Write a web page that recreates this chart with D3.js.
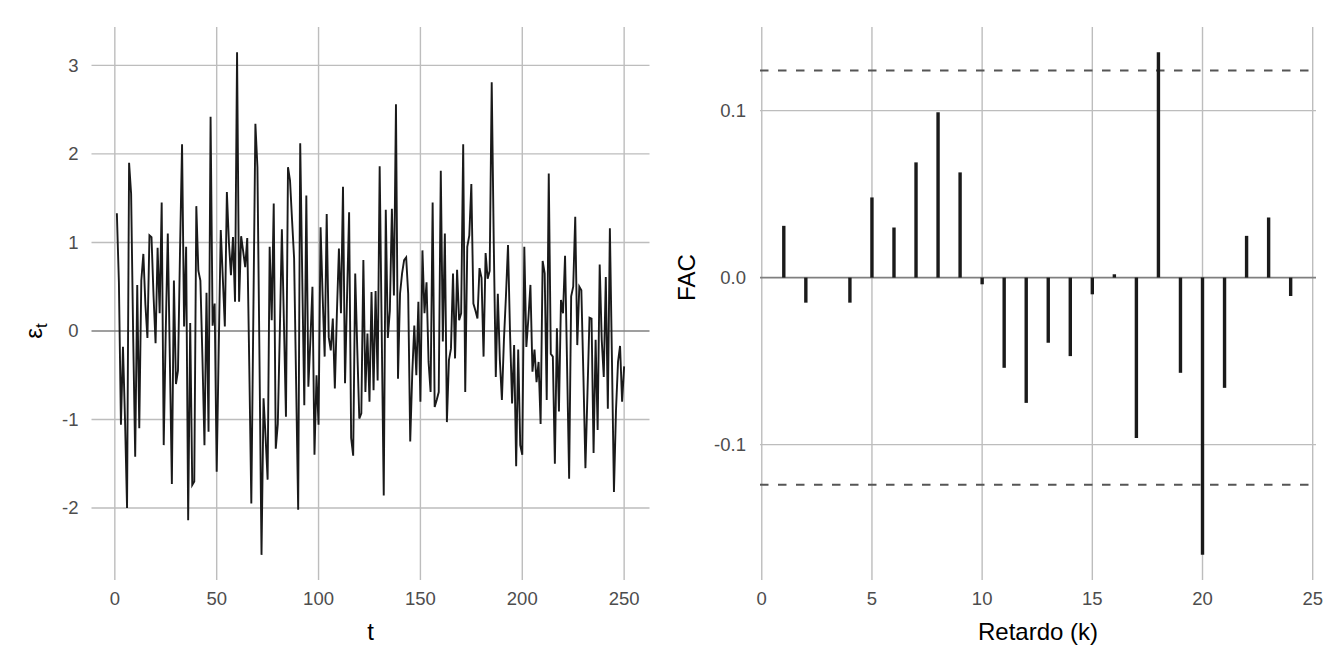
<!DOCTYPE html>
<html>
<head>
<meta charset="utf-8">
<script src="https://cdn.jsdelivr.net/npm/d3@7"></script>
<style>
  body { margin: 0; background: #fff; }
  svg { font-family: "Liberation Sans", Arial, Helvetica, sans-serif; }
  .tick-label { fill: #4d4d4d; font-size: 18.5px; }
  .axis-title { fill: #000; font-size: 24px; }
  .grid-line { stroke: #bdbdbd; stroke-width: 1.4; }
  .zero-line { stroke: #7f7f7f; stroke-width: 1.6; }
</style>
</head>
<body>
<svg id="chart" width="1344" height="672"></svg>
<script>
// residual series e_t, t = 1..250
var resid = [
   1.33, 0.55, -1.06, -0.18, -1.0, -2.0, 1.9, 1.55, -0.05, -1.42,
   0.52, -1.1, 0.57, 0.87, 0.3, -0.08, 1.08, 1.06, 0.4, -0.14,
   0.94, 0.2, 1.45, -1.29, 0.0, 1.1, -0.3, -1.73, 0.57, -0.6,
   -0.45, 0.9, 2.11, 0.05, 0.95, -2.14, 0.09, -1.74, -1.7, 1.41,
   0.68, 0.57, -0.3, -1.29, 0.43, -1.14, 2.42, 0.06, 0.31, -1.59,
   -0.2, 1.14, 0.6, 0.05, 1.57, 1.0, 0.63, 1.06, 0.33, 3.15,
   0.33, 1.07, 0.9, 0.72, 1.05, -0.4, -1.95, 0.2, 2.34, 1.85,
   -0.3, -2.53, -0.76, -1.2, -1.68, 0.95, 0.12, 1.44, -1.33, -1.05,
   0.0, 1.15, 0.1, -0.97, 1.85, 1.7, 1.25, 0.82, -0.6, -2.02,
   2.12, 0.6, -0.84, 1.53, -0.63, -0.1, 0.5, -1.4, -0.5, -1.06,
   1.17, 0.4, -0.29, 1.32, -0.07, -0.22, 0.14, -0.65, 0.2, 0.93,
   0.2, 1.63, -0.59, 0.4, 1.34, -1.21, -1.41, 0.65, -0.2, -0.99,
   -0.93, 0.8, -0.69, -0.03, -0.8, 0.44, -0.67, 0.45, -0.56, 1.86,
   0.0, -1.86, 1.37, -0.08, 0.23, 1.38, 0.4, 2.56, -0.54, 0.42,
   0.65, 0.8, 0.83, 0.42, -1.25, -0.48, 0.06, -0.5, 0.33, -0.8,
   0.91, 0.2, 0.55, -0.35, -0.69, 1.45, -0.86, -0.78, -0.69, 1.81,
   -0.12, 1.1, -1.03, -0.33, -0.2, 0.65, -0.31, 0.69, 0.12, 0.2,
   2.11, -0.69, 0.95, 1.08, 1.66, 0.31, 0.23, 0.14, 0.71, 0.6,
   -0.29, 0.88, 0.59, 0.68, 2.81, 1.0, -0.52, 0.42, -0.33, -0.78,
   -0.1, 0.4, 0.97, -0.03, -0.82, -0.16, -1.53, -0.21, -1.29, -1.4,
   0.95, -0.18, 0.14, 0.52, -0.46, -0.21, -0.58, -0.35, -1.05, 0.79,
   0.65, -0.78, 1.78, -0.26, -0.29, -1.5, 0.03, -0.91, 0.35, 0.2,
   0.85, -0.4, -1.67, 0.39, 0.5, 1.29, -0.16, 0.5, 0.46, -0.5,
   -1.55, -0.7, 0.15, 0.14, -1.38, -0.1, -1.12, 0.75, -0.1, -0.52,
   0.61, -0.88, 1.16, -0.3, -1.82, -0.9, -0.35, -0.17, -0.8, -0.4
];

// sample autocorrelations, lags 1..24
var acfLags = d3.range(1, 25);
var acfVals = [
   0.031, -0.015, 0.0, -0.015, 0.048, 0.030, 0.069, 0.099, 0.063, -0.004,
   -0.054, -0.075, -0.039, -0.047, -0.010, 0.002, -0.096, 0.135, -0.057, -0.166,
   -0.066, 0.025, 0.036, -0.011
];
var confBand = 0.124;   // +/- 1.96/sqrt(250)

var tTicks = [0, 50, 100, 150, 200, 250];
var eTicks = [-2, -1, 0, 1, 2, 3];
var lagTicks = [0, 5, 10, 15, 20, 25];
var facTicks = [-0.1, 0, 0.1];

var svg = d3.select("#chart");
var plotTop = 27, plotBottom = 580;

// ggplot-ish 5% expansion
function expand(ext, f){
   var pad = (ext[1] - ext[0]) * f;
   return [ext[0] - pad, ext[1] + pad];
}
// plain hyphen for negatives, like the original
function fmt1(d){ return d3.format(".1f")(d).replace("\u2212", "-"); }

//----- left panel: residual series
var L = {x0: 91.5, x1: 649.5};
var xT = d3.scaleLinear().domain(expand([1, 250], 0.05)).range([L.x0, L.x1]);
var yE = d3.scaleLinear().domain(expand(d3.extent(resid), 0.05)).range([plotBottom, plotTop]);

var gL = svg.append("g");
gL.selectAll("line.hgrid").data(eTicks.filter(function(d){ return d !== 0; })).enter().append("line")
   .attr("class", "grid-line")
   .attr("x1", L.x0).attr("x2", L.x1)
   .attr("y1", function(d){ return yE(d); }).attr("y2", function(d){ return yE(d); });
gL.selectAll("line.vgrid").data(tTicks).enter().append("line")
   .attr("class", "grid-line")
   .attr("x1", function(d){ return xT(d); }).attr("x2", function(d){ return xT(d); })
   .attr("y1", plotTop).attr("y2", plotBottom);
gL.append("line").attr("class", "zero-line")
   .attr("x1", L.x0).attr("x2", L.x1).attr("y1", yE(0)).attr("y2", yE(0));

var line = d3.line()
   .x(function(d, i){ return xT(i + 1); })
   .y(function(d){ return yE(d); });
gL.append("path").datum(resid)
   .attr("d", line)
   .attr("fill", "none")
   .attr("stroke", "#1a1a1a")
   .attr("stroke-width", 1.9)
   .attr("stroke-linejoin", "miter")
   .attr("stroke-miterlimit", 4);

gL.selectAll("text.ylab").data(eTicks).enter().append("text")
   .attr("class", "tick-label").attr("text-anchor", "end")
   .attr("x", L.x0 - 13).attr("y", function(d){ return yE(d) + 6.5; })
   .text(function(d){ return d; });
gL.selectAll("text.xlab").data(tTicks).enter().append("text")
   .attr("class", "tick-label").attr("text-anchor", "middle")
   .attr("x", function(d){ return xT(d); }).attr("y", 605)
   .text(function(d){ return d; });
gL.append("text").attr("class", "axis-title").attr("text-anchor", "middle")
   .attr("x", (L.x0 + L.x1) / 2).attr("y", 640).text("t");
var eLab = gL.append("text").attr("class", "axis-title").attr("text-anchor", "middle")
   .attr("font-size", "25px")
   .attr("transform", "translate(42," + yE(0) + ") rotate(-90)");
eLab.append("tspan").text("ε");
eLab.append("tspan").attr("font-size", "17px").attr("dy", 5).text("t");

//----- right panel: FAC
var R = {x0: 760, x1: 1316};
var xK = d3.scaleLinear().domain([-0.08, 25.15]).range([R.x0, R.x1]);
var yF = d3.scaleLinear()
   .domain(expand(d3.extent(acfVals), 0.05))
   .range([plotBottom, plotTop]);

var gR = svg.append("g");
gR.selectAll("line.hgrid").data(facTicks.filter(function(d){ return d !== 0; })).enter().append("line")
   .attr("class", "grid-line")
   .attr("x1", R.x0).attr("x2", R.x1)
   .attr("y1", function(d){ return yF(d); }).attr("y2", function(d){ return yF(d); });
gR.selectAll("line.vgrid").data(lagTicks).enter().append("line")
   .attr("class", "grid-line")
   .attr("x1", function(d){ return xK(d); }).attr("x2", function(d){ return xK(d); })
   .attr("y1", plotTop).attr("y2", plotBottom);
gR.append("line").attr("class", "zero-line")
   .attr("x1", R.x0).attr("x2", R.x1).attr("y1", yF(0)).attr("y2", yF(0));

gR.selectAll("line.band").data([confBand, -confBand]).enter().append("line")
   .attr("x1", R.x0).attr("x2", R.x1)
   .attr("y1", function(d){ return yF(d); }).attr("y2", function(d){ return yF(d); })
   .attr("stroke", "#555").attr("stroke-width", 2)
   .attr("stroke-dasharray", "8.5,9.5");

gR.selectAll("line.acf").data(acfVals).enter().append("line")
   .attr("x1", function(d, i){ return xK(acfLags[i]); })
   .attr("x2", function(d, i){ return xK(acfLags[i]); })
   .attr("y1", yF(0))
   .attr("y2", function(d){ return yF(d); })
   .attr("stroke", "#1a1a1a").attr("stroke-width", 3.4);

gR.selectAll("text.ylab").data(facTicks).enter().append("text")
   .attr("class", "tick-label").attr("text-anchor", "end")
   .attr("x", R.x0 - 14).attr("y", function(d){ return yF(d) + 6.5; })
   .text(fmt1);
gR.selectAll("text.xlab").data(lagTicks).enter().append("text")
   .attr("class", "tick-label").attr("text-anchor", "middle")
   .attr("x", function(d){ return xK(d); }).attr("y", 605)
   .text(function(d){ return d; });
gR.append("text").attr("class", "axis-title").attr("text-anchor", "middle")
   .attr("x", (R.x0 + R.x1) / 2).attr("y", 640).text("Retardo (k)");
gR.append("text").attr("class", "axis-title").attr("text-anchor", "middle")
   .attr("transform", "translate(695," + yF(0) + ") rotate(-90)")
   .text("FAC");
</script>
</body>
</html>
